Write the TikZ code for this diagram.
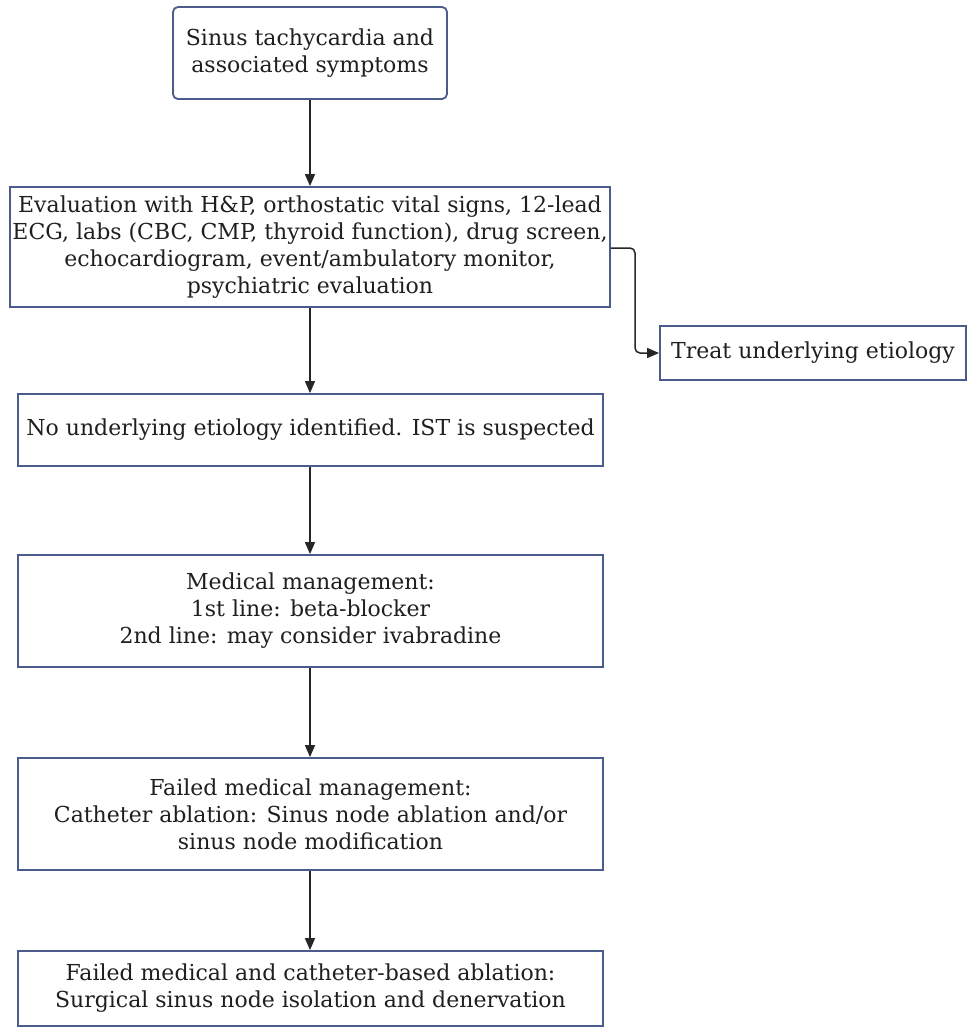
\documentclass[tikz,border=0pt]{standalone}
\usepackage{fontspec}
\setmainfont{DejaVu Serif}
\usetikzlibrary{arrows.meta}
\definecolor{boxblue}{HTML}{4B5B8C}
\tikzset{
  box/.style={draw=boxblue, line width=1.8pt, fill=white, rectangle, inner sep=0pt, align=center, font=\fontsize{22}{27}\selectfont, text=black!88},
  link/.style={draw=black!85, line width=1.5pt, -{Triangle[length=12pt,width=10pt]}}
}
\begin{document}
\begin{tikzpicture}[x=1pt,y=1pt]
\useasboundingbox[fill=white] (0,0) rectangle (968,-1028);
\node[box, rounded corners=5pt, minimum width=274pt, minimum height=92pt] (sym) at (310,-53) {Sinus tachycardia and\\associated symptoms};
\node[box, minimum width=600pt, minimum height=120pt] (eval) at (310,-247) {Evaluation with H\&P, orthostatic vital signs, 12-lead\\ECG, labs (CBC, CMP, thyroid function), drug screen,\\echocardiogram, event/ambulatory monitor,\\psychiatric evaluation};
\node[box, minimum width=306pt, minimum height=54pt] (treat) at (813,-353) {Treat underlying etiology};
\node[box, minimum width=585pt, minimum height=72pt] (noeti) at (310.5,-430) {No underlying etiology identified. IST is suspected};
\node[box, minimum width=585pt, minimum height=112pt] (med) at (310.5,-611) {Medical management:\\1st line: beta-blocker\\2nd line: may consider ivabradine};
\node[box, minimum width=585pt, minimum height=112pt] (cath) at (310.5,-814) {Failed medical management:\\Catheter ablation: Sinus node ablation and/or\\sinus node modification};
\node[box, minimum width=585pt, minimum height=75pt] (surg) at (310.5,-988.5) {Failed medical and catheter-based ablation:\\Surgical sinus node isolation and denervation};
\coordinate (bend) at (635,-248);
\draw[link] (sym.south -| 310,0) -- (eval.north -| 310,0);
\draw[link, rounded corners=5pt] (eval.east |- bend) -- (bend) |- (treat.west);
\draw[link] (eval.south -| 310,0) -- (noeti.north -| 310,0);
\draw[link] (noeti.south -| 310,0) -- (med.north -| 310,0);
\draw[link] (med.south -| 310,0) -- (cath.north -| 310,0);
\draw[link] (cath.south -| 310,0) -- (surg.north -| 310,0);
\end{tikzpicture}
\end{document}
